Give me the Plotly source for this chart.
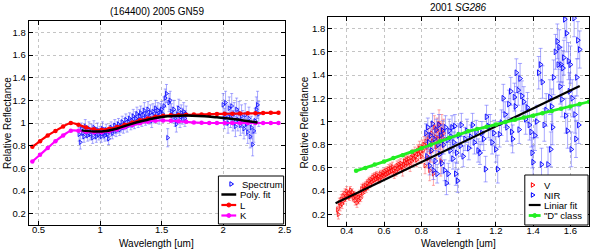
import plotly.graph_objects as go

# ---------------- Left panel data: (164400) 2005 GN59 ----------------
spec_x = [0.83,0.84,0.85,0.86,0.87,0.88,0.89,0.90,0.91,0.92,0.93,0.94,0.95,0.96,0.97,0.98,0.99,1.00,
          1.01,1.02,1.03,1.04,1.05,1.06,1.07,1.08,1.09,1.10,1.11,1.12,1.13,1.14,1.15,1.16,1.17,1.18,1.19,
          1.20,1.21,1.22,1.23,1.24,1.25,1.26,1.27,1.28,1.29,1.30,1.31,1.32,1.33,1.34,1.35,1.36,1.37,1.38,
          1.39,1.40,1.41,1.42,1.43,1.44,1.45,1.46,1.47,1.48,1.49,1.50,1.51,1.52,1.53,1.54,1.55,1.56,1.57,
          1.58,1.59,1.60,1.61,1.62,1.63,1.64,1.65,1.66,1.67,1.68,1.69,1.70,
          2.00,2.01,2.02,2.03,2.04,2.05,2.06,2.07,2.08,2.09,2.10,2.11,2.12,2.13,2.14,2.15,2.16,2.17,2.18,
          2.19,2.20,2.21,2.22,2.23,2.24,2.25,2.26,2.27,2.28,2.29]
spec_y = [0.90,0.83,0.95,0.91,0.88,0.97,0.92,0.89,0.95,0.90,0.93,0.87,0.96,0.91,0.88,0.94,0.90,0.92,
          0.88,0.95,0.91,0.89,0.94,0.90,0.86,0.93,0.96,0.91,0.94,0.98,0.93,0.96,0.99,0.94,0.97,1.01,0.96,
          0.99,1.03,0.97,1.01,1.04,0.99,1.02,1.06,1.00,1.04,1.08,1.02,1.06,1.09,1.03,1.07,1.11,1.04,1.08,
          1.12,1.05,1.09,1.02,1.10,1.06,1.13,1.08,1.11,1.06,1.10,1.12,1.08,1.15,1.22,1.26,0.87,1.18,1.20,
          1.10,1.07,1.12,1.04,0.99,1.08,1.13,1.03,1.09,1.06,1.10,1.04,1.08,
          1.16,1.04,1.18,1.07,1.00,1.13,1.05,1.15,1.02,1.08,0.97,1.12,1.03,1.09,0.98,1.06,1.01,0.95,1.07,
          0.99,0.92,1.04,0.88,0.96,0.81,0.93,1.02,1.12,1.16,1.08]
spec_err = [0.06,0.06,0.05,0.05,0.05,0.06,0.05,0.05,0.06,0.05,0.06,0.05,0.06,0.05,0.05,0.06,0.05,0.05,
            0.05,0.06,0.05,0.05,0.05,0.05,0.05,0.05,0.05,0.05,0.05,0.05,0.05,0.05,0.05,0.05,0.05,0.05,0.05,
            0.05,0.05,0.05,0.05,0.05,0.05,0.06,0.06,0.05,0.06,0.06,0.06,0.06,0.06,0.06,0.06,0.07,0.06,0.06,
            0.07,0.06,0.07,0.06,0.07,0.06,0.07,0.07,0.07,0.07,0.07,0.07,0.07,0.08,0.08,0.08,0.08,0.08,0.08,
            0.07,0.07,0.08,0.07,0.07,0.07,0.08,0.07,0.07,0.07,0.08,0.07,0.07,
            0.10,0.09,0.10,0.09,0.09,0.10,0.09,0.11,0.09,0.10,0.09,0.10,0.10,0.10,0.09,0.10,0.10,0.09,0.10,
            0.10,0.10,0.10,0.10,0.10,0.10,0.10,0.11,0.11,0.12,0.11]

poly_x = [0.85,0.95,1.05,1.15,1.25,1.35,1.45,1.55,1.65,1.75,1.85,1.95,2.05,2.15,2.28]
poly_y = [0.935,0.925,0.93,0.955,0.99,1.02,1.045,1.06,1.065,1.065,1.06,1.05,1.04,1.025,1.005]

lk_x = [0.45,0.5125,0.575,0.6375,0.70,0.7625,0.825,0.8875,0.95,1.0125,1.075,1.1375,1.20,1.2625,
        1.325,1.3875,1.45,1.5125,1.575,1.6375,1.70,1.7625,1.825,1.8875,1.95,2.0125,2.075,2.1375,
        2.20,2.2625,2.325,2.3875,2.45]
L_y = [0.79,0.84,0.89,0.93,0.97,1.00,0.985,0.96,0.945,0.94,0.95,0.965,0.985,1.005,1.025,1.04,1.055,
       1.063,1.068,1.07,1.072,1.074,1.076,1.078,1.08,1.081,1.082,1.083,1.085,1.086,1.088,1.09,1.09]
K_y = [0.66,0.72,0.78,0.84,0.89,0.932,0.932,0.922,0.918,0.918,0.927,0.943,0.962,0.982,0.998,1.012,
       1.02,1.022,1.02,1.015,1.01,1.005,1.002,1.0,1.0,1.0,1.0,1.0,1.0,1.0,1.0,1.0,1.0]

# ---------------- Right panel data: 2001 SG286 ----------------
v_x = [0.350,0.355,0.360,0.365,0.370,0.375,0.380,0.385,0.390,0.395,0.400,0.405,0.410,0.415,0.420,
       0.425,0.430,0.435,0.440,0.445,0.450,0.455,0.460,0.465,0.470,0.475,0.480,0.485,0.490,0.495,
       0.500,0.505,0.510,0.515,0.520,0.525,0.530,0.535,0.540,0.545,0.550,0.555,0.560,0.565,0.570,
       0.575,0.580,0.585,0.590,0.595,0.600,0.605,0.610,0.615,0.620,0.625,0.630,0.635,0.640,0.645,
       0.650,0.655,0.660,0.665,0.670,0.675,0.680,0.685,0.690,0.695,0.700,0.705,0.710,0.715,0.720,
       0.725,0.730,0.735,0.740,0.745,0.750,0.755,0.760,0.765,0.770,0.775,0.780,0.785,0.790,0.795,
       0.800,0.805,0.810,0.815,0.820,0.825,0.830,0.835,0.840,0.845,0.850,0.855,0.860,0.865,0.870,
       0.875,0.880,0.885,0.890,0.895,0.900,0.905,0.910,0.915,0.920]
v_y = [0.24,0.20,0.30,0.27,0.33,0.29,0.36,0.32,0.38,0.34,0.40,0.36,0.38,0.35,0.41,0.37,0.39,0.34,
       0.37,0.32,0.36,0.30,0.35,0.32,0.38,0.34,0.42,0.38,0.44,0.41,0.45,0.42,0.47,0.44,0.49,0.46,
       0.50,0.48,0.52,0.49,0.53,0.50,0.54,0.51,0.53,0.50,0.55,0.52,0.54,0.56,0.53,0.57,0.54,0.58,
       0.55,0.59,0.56,0.60,0.57,0.61,0.58,0.55,0.60,0.57,0.62,0.59,0.63,0.60,0.64,0.61,0.58,0.63,
       0.66,0.62,0.67,0.64,0.68,0.65,0.62,0.69,0.66,0.71,0.68,0.73,0.70,0.67,0.75,0.72,0.77,0.74,
       0.70,0.78,0.75,0.80,0.62,0.83,0.78,0.68,0.86,0.58,0.74,0.90,0.83,0.55,0.95,0.87,0.78,0.92,
       0.85,0.98,0.88,0.66,0.93,0.86,0.90]
v_err = [0.03,0.04,0.04,0.04,0.04,0.04,0.04,0.03,0.04,0.03,0.04,0.03,0.03,0.03,0.03,0.03,0.03,0.03,
         0.03,0.04,0.03,0.04,0.03,0.03,0.03,0.03,0.04,0.03,0.03,0.03,0.03,0.03,0.03,0.03,0.03,0.03,
         0.03,0.03,0.03,0.03,0.03,0.03,0.03,0.03,0.03,0.03,0.03,0.03,0.03,0.03,0.03,0.03,0.03,0.03,
         0.03,0.04,0.03,0.04,0.03,0.04,0.03,0.04,0.03,0.04,0.04,0.03,0.04,0.04,0.04,0.04,0.05,0.04,
         0.04,0.04,0.04,0.05,0.04,0.05,0.05,0.05,0.05,0.05,0.05,0.05,0.05,0.06,0.05,0.06,0.06,0.06,
         0.06,0.06,0.07,0.07,0.07,0.07,0.08,0.08,0.08,0.09,0.09,0.09,0.10,0.10,0.10,0.10,0.10,0.11,
         0.11,0.12,0.12,0.13,0.13,0.12,0.12]

nir_x = [0.825,0.830,0.835,0.840,0.845,0.850,0.855,0.860,0.865,0.870,0.875,0.880,0.885,0.890,0.895,
         0.900,0.905,0.910,0.915,0.920,0.925,0.930,0.935,0.940,0.945,0.950,0.955,0.960,0.965,0.970,
         0.975,0.980,0.985,0.990,0.995,1.000,1.010,1.015,1.025,1.035,1.045,1.055,1.065,1.075,1.085,
         1.095,1.105,1.115,1.125,1.135,1.145,1.150,1.160,1.170,1.180,1.190,1.200,1.210,1.220,1.230,
         1.240,1.250,1.260,1.270,1.280,1.285,1.290,1.300,1.305,1.310,1.320,1.325,1.330,1.340,1.350,
         1.360,1.370,1.380,1.390,1.395,1.400,1.410,1.420,1.430,1.440,1.445,1.450,1.460,1.470,1.480,
         1.490,1.495,1.500,1.505,1.510,1.520,1.530,1.535,1.540,1.545,1.550,1.555,1.560,1.565,1.570,
         1.575,1.580,1.585,1.590,1.595,1.600,1.605,1.610,1.620,1.625,1.630,1.635,1.640,1.645,1.650]
nir_y = [0.90,0.70,0.95,0.82,0.62,0.88,0.75,0.98,0.58,0.85,0.66,0.93,0.55,0.80,0.97,0.72,0.88,0.64,
         0.92,0.80,0.58,0.95,0.47,0.84,0.55,0.92,0.75,0.87,0.95,0.68,0.82,0.96,0.55,0.73,0.49,0.88,
         0.79,0.97,0.70,0.85,0.92,0.77,0.87,0.97,0.82,0.91,0.75,0.73,0.90,0.85,0.59,1.04,0.96,0.95,
         0.82,0.90,0.76,0.59,0.89,0.99,1.20,1.06,0.95,1.15,1.26,0.91,0.85,1.21,1.13,1.42,1.27,0.93,
         1.37,1.22,1.17,1.02,1.12,0.97,0.91,0.73,0.65,0.88,1.00,1.42,1.49,0.63,1.34,0.97,1.10,0.63,
         1.21,0.76,1.13,0.95,1.38,1.60,1.69,1.49,1.64,1.30,1.49,1.19,1.46,1.55,1.88,1.05,1.76,0.92,
         1.52,1.26,1.49,0.76,1.20,1.89,1.06,0.85,1.38,1.70,0.97,1.62]
nir_err = [0.08,0.07,0.08,0.08,0.08,0.08,0.08,0.09,0.08,0.08,0.09,0.09,0.08,0.08,0.09,0.08,0.09,0.09,
           0.09,0.08,0.09,0.10,0.10,0.09,0.09,0.10,0.09,0.09,0.10,0.09,0.09,0.10,0.10,0.09,0.10,0.10,
           0.09,0.10,0.09,0.10,0.10,0.10,0.10,0.10,0.10,0.10,0.10,0.10,0.10,0.10,0.11,0.10,0.10,0.11,
           0.10,0.11,0.11,0.12,0.11,0.11,0.12,0.11,0.12,0.12,0.12,0.12,0.12,0.12,0.12,0.12,0.13,0.12,
           0.13,0.13,0.13,0.13,0.13,0.13,0.13,0.13,0.14,0.13,0.14,0.14,0.14,0.14,0.14,0.14,0.14,0.15,
           0.15,0.15,0.15,0.15,0.15,0.15,0.15,0.15,0.15,0.15,0.15,0.15,0.15,0.15,0.16,0.15,0.16,0.15,
           0.16,0.16,0.16,0.15,0.16,0.16,0.16,0.16,0.16,0.16,0.16,0.16]

lin_x = [0.34, 1.65]
lin_y = [0.295, 1.305]

d_x = [0.45,0.50,0.55,0.60,0.65,0.70,0.75,0.80,0.85,0.90,0.95,1.00,1.05,1.10,1.15,1.20,1.25,1.30,
       1.35,1.40,1.45,1.50,1.55,1.60,1.65,1.70]
d_y = [0.575,0.60,0.63,0.655,0.685,0.71,0.74,0.77,0.80,0.83,0.86,0.89,0.915,0.935,0.955,0.975,
       0.995,1.015,1.035,1.05,1.07,1.09,1.11,1.13,1.15,1.17]

ytick_vals = [0.2, 0.4, 0.6, 0.8, 1.0, 1.2, 1.4, 1.6, 1.8]
ytick_text = ["0.2", "0.4", "0.6", "0.8", "1", "1.2", "1.4", "1.6", "1.8"]
xl_tick_vals = [0.5, 1.0, 1.5, 2.0, 2.5]
xl_tick_text = ["0.5", "1", "1.5", "2", "2.5"]
xr_tick_vals = [0.4, 0.6, 0.8, 1.0, 1.2, 1.4, 1.6]
xr_tick_text = ["0.4", "0.6", "0.8", "1", "1.2", "1.4", "1.6"]

# ---------------- Styling ----------------
W, H = 600, 250
FONT = "Liberation Sans, Arial, Helvetica, sans-serif"
BLUE = "#0000ff"
BLUE_ERR = "rgba(90,90,255,0.75)"
RED = "#ff0000"
RED_ERR = "rgba(255,90,90,0.75)"
MAG = "#ff00ff"
GREEN = "#22ee22"

def px(x):
    return x / W

def py(y):
    return 1 - y / H

fig = go.Figure()

# Left panel
fig.add_trace(go.Scatter(x=spec_x, y=spec_y, mode="markers", xaxis="x", yaxis="y",
                         marker=dict(symbol="triangle-right-open", size=4, color=BLUE, line=dict(width=0.8)),
                         error_y=dict(type="data", array=spec_err, color=BLUE_ERR, thickness=0.7, width=1.5),
                         showlegend=False))
fig.add_trace(go.Scatter(x=lk_x, y=L_y, mode="lines+markers", xaxis="x", yaxis="y",
                         line=dict(color=RED, width=2.2, shape="spline"),
                         marker=dict(symbol="circle", size=4.5, color=RED), showlegend=False))
fig.add_trace(go.Scatter(x=lk_x, y=K_y, mode="lines+markers", xaxis="x", yaxis="y",
                         line=dict(color=MAG, width=2.2, shape="spline"),
                         marker=dict(symbol="circle", size=4.5, color=MAG), showlegend=False))
fig.add_trace(go.Scatter(x=poly_x, y=poly_y, mode="lines", xaxis="x", yaxis="y",
                         line=dict(color="black", width=2.5, shape="spline"), showlegend=False))

# Right panel
fig.add_trace(go.Scatter(x=v_x, y=v_y, mode="markers", xaxis="x2", yaxis="y2",
                         marker=dict(symbol="triangle-right-open", size=4, color=RED, line=dict(width=0.8)),
                         error_y=dict(type="data", array=v_err, color=RED_ERR, thickness=0.7, width=1.5),
                         showlegend=False))
fig.add_trace(go.Scatter(x=nir_x, y=nir_y, mode="markers", xaxis="x2", yaxis="y2",
                         marker=dict(symbol="triangle-right-open", size=5, color=BLUE, line=dict(width=0.9)),
                         error_y=dict(type="data", array=nir_err, color=BLUE_ERR, thickness=0.7, width=2),
                         showlegend=False))
fig.add_trace(go.Scatter(x=lin_x, y=lin_y, mode="lines", xaxis="x2", yaxis="y2",
                         line=dict(color="black", width=2.2), showlegend=False))
fig.add_trace(go.Scatter(x=d_x, y=d_y, mode="lines+markers", xaxis="x2", yaxis="y2",
                         line=dict(color=GREEN, width=2.8),
                         marker=dict(symbol="circle", size=4.5, color=GREEN), showlegend=False))

axis_common = dict(showline=True, linecolor="black", linewidth=1, mirror="allticks",
                   ticks="inside", ticklen=4, tickcolor="black", tickwidth=1,
                   showgrid=True, gridcolor="#c4c4c4", gridwidth=1, griddash="dot",
                   zeroline=False, tickfont=dict(family=FONT, size=9.5, color="black"))

# Pixel geometry of the plot areas
L_x0, L_x1, L_y0, L_y1 = 29, 288, 21, 225
R_x0, R_x1, R_y0, R_y1 = 332, 596, 17, 226

fig.update_layout(
    width=W, height=H, margin=dict(l=0, r=0, t=0, b=0),
    paper_bgcolor="white", plot_bgcolor="white",
    font=dict(family=FONT, size=10, color="black"),
    xaxis=dict(domain=[px(L_x0), px(L_x1)], range=[0.42, 2.5], tickvals=xl_tick_vals,
               ticktext=xl_tick_text, anchor="y", ticklabelstandoff=-4, **axis_common),
    yaxis=dict(domain=[py(L_y1), py(L_y0)], range=[0.1, 1.9], tickvals=ytick_vals,
               ticktext=ytick_text, anchor="x", **axis_common),
    xaxis2=dict(domain=[px(R_x0), px(R_x1)], range=[0.3, 1.7], tickvals=xr_tick_vals,
                ticktext=xr_tick_text, anchor="y2", ticklabelstandoff=-4, **axis_common),
    yaxis2=dict(domain=[py(R_y1), py(R_y0)], range=[0.1, 1.9], tickvals=ytick_vals,
                ticktext=ytick_text, anchor="x2", **axis_common),
    showlegend=False,
)

annotations = []
shapes = []

def text(x, y, s, size=10, angle=0, xanchor="center", color="black"):
    annotations.append(dict(x=px(x), y=py(y), xref="paper", yref="paper", text=s, showarrow=False,
                            xanchor=xanchor, yanchor="middle", textangle=angle,
                            font=dict(family=FONT, size=size, color=color)))

# Titles and axis labels
text(158.5, 11, "(164400) 2005 GN59", size=10)
text(464, 7.5, "2001 <i>SG286</i>", size=10)
text(158.5, 243.5, "Wavelength [um]", size=10)
text(464, 243, "Wavelength [um]", size=10)
text(7, 123, "Relative Reflectance", size=10, angle=-90)
text(308, 122, "Relative Reflectance", size=10, angle=-90)

# ---- manual legends ----
def rect(x0, y0, x1, y1):
    shapes.append(dict(type="rect", xref="paper", yref="paper", x0=px(x0), x1=px(x1),
                       y0=py(y1), y1=py(y0), line=dict(color="black", width=1), fillcolor="white",
                       layer="above"))

def hline(x0, x1, y, color, width):
    shapes.append(dict(type="line", xref="paper", yref="paper", x0=px(x0), x1=px(x1),
                       y0=py(y), y1=py(y), line=dict(color=color, width=width), layer="above"))

def dot(cx, cy, r, color):
    shapes.append(dict(type="circle", xref="paper", yref="paper", x0=px(cx - r), x1=px(cx + r),
                       y0=py(cy + r), y1=py(cy - r), line=dict(color=color, width=1),
                       fillcolor=color, layer="above"))

def tri(cx, cy, s, color):
    path = "M {:.5f},{:.5f} L {:.5f},{:.5f} L {:.5f},{:.5f} Z".format(
        px(cx - s * 0.6), py(cy - s), px(cx + s), py(cy), px(cx - s * 0.6), py(cy + s))
    shapes.append(dict(type="path", xref="paper", yref="paper", path=path,
                       line=dict(color=color, width=1), layer="above"))

# left legend
rect(221, 176, 287, 224)
tri(234, 184, 2.3, BLUE)
text(243, 184, "Spectrum", size=9.5, xanchor="left")
hline(224, 239, 194.5, "black", 2.5)
text(241, 194.5, "Poly. fit", size=9.5, xanchor="left")
hline(224, 239, 205, RED, 2.2)
dot(231.5, 205, 2, RED)
text(241, 205, "L", size=9.5, xanchor="left")
hline(224, 239, 215.5, MAG, 2.2)
dot(231.5, 215.5, 2, MAG)
text(241, 215.5, "K", size=9.5, xanchor="left")

# right legend
rect(531, 175, 595, 225)
tri(539, 185, 2.3, RED)
text(548, 185, "V", size=9.5, xanchor="left")
tri(539, 195, 2.3, BLUE)
text(548, 195, "NIR", size=9.5, xanchor="left")
hline(535, 547, 205, "black", 2.2)
text(548, 205, "Liniar fit", size=9.5, xanchor="left")
hline(535, 547, 215.5, GREEN, 2.8)
dot(541, 215.5, 2, GREEN)
text(548, 215.5, "\"D\" class", size=9.5, xanchor="left")

fig.update_layout(annotations=annotations, shapes=shapes)

fig.write_html("out.html", config={"displayModeBar": False},
               post_script="document.body.style.margin='0';document.body.style.overflow='hidden';")
